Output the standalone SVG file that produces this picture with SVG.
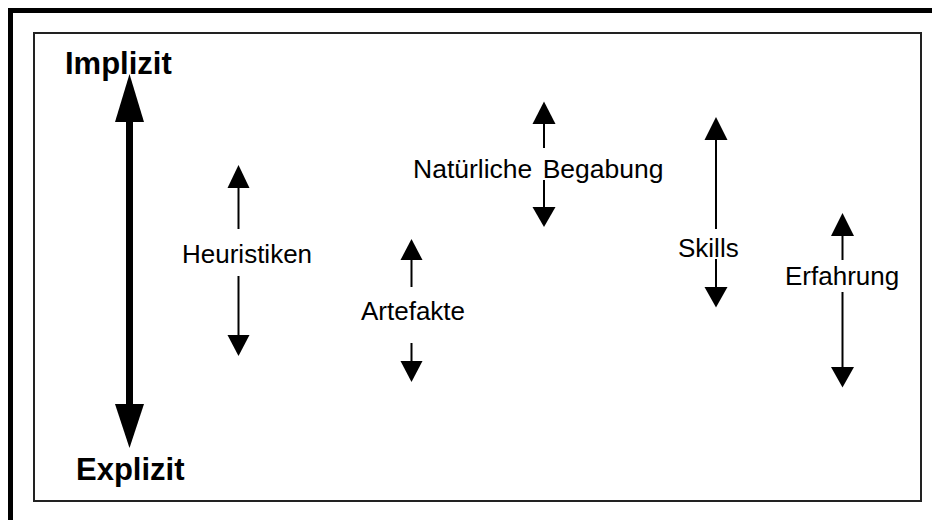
<svg xmlns="http://www.w3.org/2000/svg" width="932" height="520" viewBox="0 0 932 520">
<style>
.lbl{font-family:"Liberation Sans",Arial,sans-serif;font-size:26px;fill:#000}
.big{font-family:"Liberation Sans",Arial,sans-serif;font-size:31px;font-weight:bold;fill:#000}
.sh{stroke:#000;stroke-width:2;fill:none}
.hd{fill:#000;stroke:none}
</style>
<rect x="0" y="0" width="932" height="520" fill="#fff"/>
<rect x="10.5" y="10.5" width="940" height="540" fill="none" stroke="#000" stroke-width="5"/>
<rect x="34" y="33" width="887" height="468" fill="none" stroke="#222" stroke-width="2"/>
<g id="connectors">
  <line x1="129.5" y1="120" x2="129.5" y2="406" stroke="#000" stroke-width="7"/>
  <polygon class="hd" points="129.5,74 144,122 115,122"/>
  <polygon class="hd" points="129.5,448 144,404 115,404"/>
  <line class="sh" x1="238.5" y1="187" x2="238.5" y2="229"/>
  <line class="sh" x1="238.5" y1="276" x2="238.5" y2="336"/>
  <polygon class="hd" points="238.5,165 249.5,188 227.5,188"/>
  <polygon class="hd" points="238.5,356 249.5,335 227.5,335"/>
  <line class="sh" x1="411.5" y1="259" x2="411.5" y2="287"/>
  <line class="sh" x1="411.5" y1="343" x2="411.5" y2="362"/>
  <polygon class="hd" points="411.5,239 422.5,260 400.5,260"/>
  <polygon class="hd" points="411.5,382 422.5,361 400.5,361"/>
  <line class="sh" x1="544" y1="123" x2="544" y2="148"/>
  <line class="sh" x1="544" y1="180" x2="544" y2="208"/>
  <polygon class="hd" points="544,101.5 555.5,124 532.5,124"/>
  <polygon class="hd" points="544,227 555.5,207 532.5,207"/>
  <line class="sh" x1="716" y1="139" x2="716" y2="229"/>
  <line class="sh" x1="716" y1="259" x2="716" y2="288"/>
  <polygon class="hd" points="716,117 727.5,140 704.5,140"/>
  <polygon class="hd" points="716,307.5 727.5,287 704.5,287"/>
  <line class="sh" x1="842.5" y1="235" x2="842.5" y2="260"/>
  <line class="sh" x1="842.5" y1="292" x2="842.5" y2="368"/>
  <polygon class="hd" points="842.5,213 854,236 831,236"/>
  <polygon class="hd" points="842.5,387.5 854,367 831,367"/>
</g>
<g id="implizit"><text class="big" x="65" y="74">Implizit</text></g>
<g id="explizit"><text class="big" x="76" y="480">Explizit</text></g>
<g id="heuristiken"><text class="lbl" x="182" y="263">Heuristiken</text></g>
<g id="artefakte"><text class="lbl" x="361" y="320">Artefakte</text></g>
<g id="begabung"><text class="lbl" x="413" y="178" style="font-size:26.5px;word-spacing:3px">Natürliche Begabung</text></g>
<g id="skills"><text class="lbl" x="678" y="257">Skills</text></g>
<g id="erfahrung"><text class="lbl" x="785" y="285">Erfahrung</text></g>
</svg>
